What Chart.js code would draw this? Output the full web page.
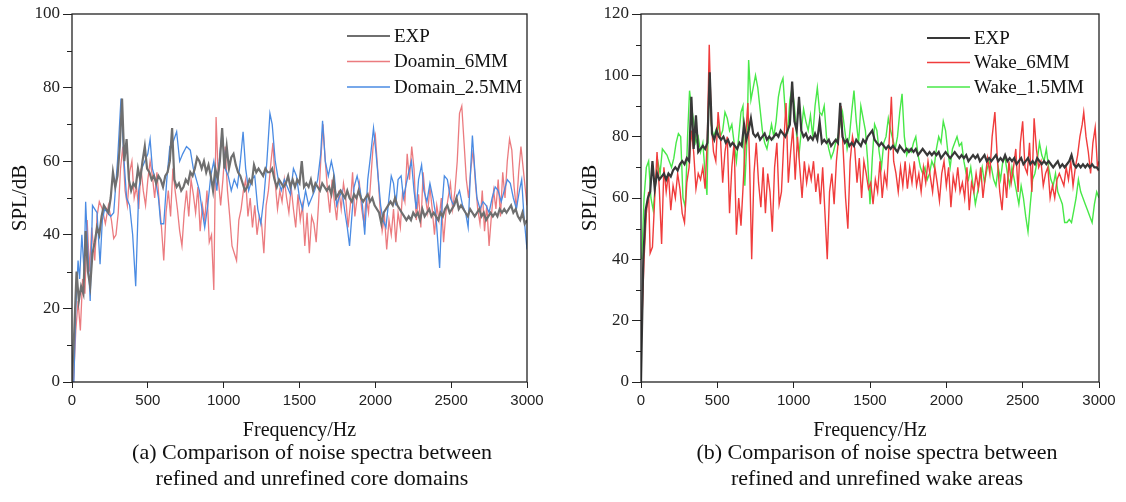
<!DOCTYPE html>
<html>
<head>
<meta charset="utf-8">
<script src="https://cdn.jsdelivr.net/npm/chart.js@4.4.1/dist/chart.umd.min.js"></script>
<style>
  html, body { margin: 0; padding: 0; background: #fff; }
  body { width: 1126px; height: 502px; position: relative; overflow: hidden; }
  .wrap { position: absolute; top: 0; height: 445px; }
  .cap { position: absolute; font-family: 'Liberation Serif', 'Times New Roman', serif; font-size: 22px; color: #111; text-align: center; line-height: 26px; white-space: nowrap; }
</style>
</head>
<body>
<div class="wrap" style="left:0; width:560px;"><canvas id="cA"></canvas></div>
<div class="wrap" style="left:570px; width:556px;"><canvas id="cB"></canvas></div>
<div class="cap" style="left:112px; width:400px; top:439px;">(a) Comparison of noise spectra between<br>refined and unrefined core domains</div>
<div class="cap" style="left:677px; width:400px; top:439px;">(b) Comparison of noise spectra between<br>refined and unrefined wake areas</div>
<script>
// ---------- DATA ----------
const xTicks = [0, 500, 1000, 1500, 2000, 2500, 3000];
const yTicksA = [0, 20, 40, 60, 80, 100];
const yTicksB = [0, 20, 40, 60, 80, 100, 120];
const expStepHz = 15; // measured spectrum: one value every 15 Hz from 0 to 3000 Hz

const labelsA = ['EXP', 'Doamin_6MM', 'Domain_2.5MM'];
const labelsB = ['EXP', 'Wake_6MM', 'Wake_1.5MM'];

// (a) EXP, every 15 Hz
const expA = [0,14,30,22,26,24,41,30,26,35,38,42,40,45,48,47,46,50,57,53,
  56,64,77,60,66,55,52,54,53,58,55,60,64,58,57,55,56,54,56,55,
  53,56,57,60,69,55,53,54,52,53,55,54,57,56,58,61,60,58,60,57,
  59,56,52,58,55,60,69,58,64,58,61,62,59,57,56,54,52,53,55,54,
  59,57,58,57,56,58,57,57,58,55,53,55,54,53,54,56,53,55,53,55,
  54,60,53,54,53,55,52,54,53,52,54,53,52,53,51,55,50,51,52,51,
  50,52,50,49,51,50,52,50,49,50,51,49,50,48,47,46,43,46,47,48,
  49,48,50,48,47,46,45,44,45,44,46,45,46,44,47,45,46,47,45,46,
  45,44,46,45,47,48,46,47,48,50,47,48,47,46,45,47,46,45,46,47,
  45,46,44,45,46,45,46,45,47,46,47,46,47,48,46,47,45,44,46,43,44];

// (a) Doamin_6MM, [Hz, dB]
const dom6A = [[10,0],[25,14],[40,22],[55,14],[70,28],[85,24],[100,44],[115,30],[130,42],[150,33],[165,45],[180,49],[200,47],[220,43],[240,48],[260,44],[275,39],[290,40],[305,46],[320,58],[335,64],[350,52],[365,48],[380,57],[395,60],[410,50],[425,53],[440,47],[455,58],[470,52],[485,48],[500,55],[515,60],[530,56],[545,50],[560,57],[575,49],[590,42],[605,33],[620,46],[635,52],[650,45],[665,58],[680,52],[695,47],[710,41],[725,37],[740,46],[755,52],[770,45],[785,55],[800,51],[815,46],[830,53],[845,41],[860,48],[875,44],[890,52],[905,38],[920,40],[935,25],[950,72],[965,55],[980,48],[995,55],[1010,64],[1025,52],[1040,45],[1055,37],[1070,35],[1085,33],[1100,44],[1115,47],[1130,52],[1145,55],[1160,45],[1175,50],[1190,42],[1205,48],[1220,40],[1235,45],[1250,43],[1265,35],[1280,48],[1295,52],[1310,59],[1325,65],[1340,54],[1355,47],[1370,52],[1385,49],[1400,55],[1415,50],[1430,46],[1445,53],[1460,47],[1475,42],[1490,51],[1505,44],[1520,48],[1535,37],[1550,46],[1565,35],[1580,45],[1595,43],[1610,38],[1625,48],[1640,60],[1655,70],[1670,60],[1685,52],[1700,46],[1715,55],[1730,49],[1745,44],[1760,52],[1775,47],[1790,54],[1805,50],[1820,42],[1835,48],[1850,57],[1865,45],[1880,50],[1895,54],[1910,47],[1925,43],[1940,50],[1955,46],[1970,55],[1985,64],[2000,67],[2015,58],[2030,48],[2045,41],[2060,45],[2075,36],[2090,44],[2105,40],[2120,47],[2135,38],[2150,46],[2165,42],[2180,52],[2195,49],[2210,62],[2225,55],[2240,64],[2255,58],[2270,44],[2285,51],[2300,42],[2315,57],[2330,50],[2345,46],[2360,53],[2375,47],[2390,40],[2405,48],[2420,44],[2435,50],[2450,38],[2465,46],[2480,50],[2495,54],[2510,47],[2525,52],[2540,60],[2555,73],[2570,75],[2585,65],[2600,55],[2615,50],[2630,58],[2645,63],[2660,54],[2675,47],[2690,43],[2705,52],[2720,41],[2735,48],[2750,37],[2765,45],[2780,52],[2795,47],[2810,55],[2825,45],[2840,57],[2855,50],[2870,60],[2885,66],[2900,63],[2915,53],[2930,47],[2945,57],[2960,64],[2975,58],[2990,52],[3000,48]];

// (a) Domain_2.5MM, [Hz, dB]
const dom25A = [[12,0],[25,20],[40,33],[50,28],[65,40],[80,30],[90,49],[105,35],[120,22],[135,48],[150,47],[165,46],[185,32],[200,44],[215,47],[235,46],[255,45],[275,46],[300,60],[323,77],[340,62],[360,50],[380,48],[400,40],[420,26],[440,52],[460,58],[480,60],[500,62],[515,66],[530,58],[550,55],[570,50],[585,43],[605,43],[625,55],[645,64],[665,65],[690,68],[710,60],[730,62],[755,64],[780,63],[800,58],[820,55],[840,52],[860,46],[875,42],[895,48],[915,56],[935,60],[955,52],[975,62],[990,68],[1010,58],[1030,56],[1050,52],[1070,55],[1090,53],[1110,60],[1128,68],[1145,58],[1165,52],[1185,55],[1205,56],[1225,47],[1245,43],[1265,50],[1285,60],[1305,73],[1320,70],[1340,60],[1360,55],[1380,52],[1400,55],[1420,53],[1440,51],[1460,58],[1480,56],[1500,50],[1520,47],[1540,52],[1560,48],[1580,50],[1600,52],[1620,55],[1640,62],[1652,71],[1670,60],[1690,56],[1710,60],[1730,56],[1745,48],[1760,50],[1780,52],[1800,46],[1815,42],[1830,37],[1845,45],[1860,53],[1880,56],[1900,52],[1915,48],[1930,40],[1950,55],[1970,62],[1988,69],[2005,62],[2020,55],[2035,48],[2050,44],[2070,42],[2090,50],[2105,56],[2120,54],[2135,48],[2150,55],[2170,56],[2185,50],[2200,53],[2220,57],[2238,60],[2255,52],[2270,47],[2285,55],[2305,59],[2320,52],[2340,49],[2360,54],[2380,50],[2400,45],[2424,31],[2440,48],[2455,56],[2475,55],[2495,50],[2515,48],[2535,50],[2555,52],[2575,48],[2595,46],[2612,42],[2625,55],[2640,67],[2655,58],[2670,50],[2690,47],[2710,49],[2730,48],[2750,46],[2770,50],[2790,53],[2810,52],[2830,49],[2850,52],[2870,55],[2890,54],[2910,50],[2930,47],[2950,52],[2965,55],[2980,45],[3000,36]];

// (b) EXP, every 15 Hz
const expB = [0,40,56,60,62,72,63,68,66,67,68,66,68,67,69,70,69,71,72,71,
  73,72,93,76,87,75,76,77,76,78,101,81,79,82,80,79,80,78,79,77,
  78,77,76,78,77,84,79,82,86,81,80,81,79,80,81,79,80,79,80,81,
  80,82,81,80,82,84,98,85,82,93,82,80,81,79,80,79,81,79,85,78,
  79,78,79,77,78,79,78,91,80,78,79,77,78,77,79,78,77,79,78,80,
  81,82,79,78,77,78,77,76,77,76,77,76,75,77,76,75,76,75,76,75,
  76,74,75,76,75,74,75,74,75,74,75,73,74,75,74,73,74,75,74,73,
  74,73,74,72,73,74,73,74,72,73,74,72,73,72,73,74,72,73,72,74,
  72,73,72,73,71,72,73,71,72,73,71,72,71,73,72,71,72,71,72,71,
  70,71,72,70,71,70,71,72,74,71,70,71,70,71,70,71,70,71,70,70,69];

// (b) Wake_6MM, [Hz, dB]
const wake6B = [[5,18],[20,40],[35,55],[50,62],[60,42],[75,44],[90,60],[105,75],[120,63],[135,45],[150,70],[165,62],[180,68],[195,56],[210,64],[225,60],[240,68],[255,63],[270,55],[285,52],[300,65],[315,70],[330,82],[345,75],[360,63],[375,68],[390,66],[405,70],[420,63],[435,80],[447,110],[460,85],[475,75],[490,72],[505,88],[520,80],[535,65],[550,75],[565,80],[580,55],[595,70],[610,78],[625,48],[640,60],[655,51],[670,65],[685,80],[700,91],[712,70],[725,40],[740,68],[755,78],[770,65],[785,57],[800,70],[815,55],[830,68],[845,62],[860,49],[875,70],[890,78],[905,58],[920,62],[935,78],[950,91],[965,65],[980,75],[995,83],[1010,66],[1025,80],[1040,70],[1055,60],[1070,72],[1085,65],[1100,70],[1115,66],[1130,72],[1145,62],[1160,68],[1175,58],[1190,70],[1205,55],[1220,40],[1235,62],[1250,68],[1265,58],[1280,72],[1295,80],[1310,90],[1325,75],[1340,60],[1355,50],[1370,72],[1385,80],[1400,76],[1415,65],[1430,73],[1445,60],[1460,72],[1475,68],[1490,63],[1505,65],[1520,58],[1535,66],[1550,62],[1565,72],[1580,60],[1595,68],[1610,64],[1625,78],[1640,93],[1655,72],[1670,68],[1685,62],[1700,70],[1715,64],[1730,72],[1745,63],[1760,70],[1775,65],[1790,72],[1805,64],[1820,68],[1835,62],[1850,70],[1865,65],[1880,72],[1895,67],[1910,62],[1925,70],[1940,65],[1955,59],[1970,68],[1985,72],[2000,64],[2015,70],[2030,57],[2045,67],[2060,63],[2075,70],[2090,62],[2105,65],[2120,60],[2135,70],[2150,56],[2165,65],[2180,62],[2195,68],[2210,63],[2225,70],[2240,60],[2255,67],[2270,73],[2285,68],[2300,80],[2318,88],[2335,72],[2350,62],[2365,56],[2380,68],[2395,60],[2410,72],[2425,65],[2440,70],[2455,76],[2470,62],[2485,78],[2500,85],[2515,70],[2530,68],[2545,78],[2560,62],[2575,86],[2590,76],[2605,70],[2620,72],[2635,64],[2650,68],[2665,70],[2680,60],[2695,64],[2710,60],[2725,66],[2740,68],[2755,66],[2770,64],[2785,70],[2800,66],[2815,72],[2830,64],[2845,70],[2860,74],[2875,80],[2890,84],[2900,88],[2915,80],[2930,75],[2945,68],[2960,78],[2975,83],[2990,70],[3000,72]];

// (b) Wake_1.5MM, [Hz, dB]
const wake15B = [[5,40],[20,60],[35,70],[50,72],[65,60],[80,56],[95,65],[110,72],[125,68],[140,76],[155,75],[170,74],[185,72],[200,70],[215,73],[230,78],[245,81],[260,80],[275,60],[290,57],[305,80],[318,95],[330,90],[345,85],[360,78],[375,80],[390,75],[405,78],[420,68],[432,61],[447,101],[460,84],[475,80],[490,82],[505,84],[520,80],[535,82],[550,88],[565,86],[580,82],[595,84],[610,78],[625,72],[640,80],[655,88],[668,90],[680,64],[695,80],[705,105],[720,92],[735,96],[750,100],[765,96],[780,89],[795,82],[810,78],[825,76],[840,80],[855,84],[870,80],[885,85],[900,93],[915,97],[930,99],[945,88],[960,81],[975,92],[990,96],[1005,90],[1020,80],[1035,74],[1050,82],[1065,89],[1080,85],[1095,82],[1110,87],[1125,80],[1140,90],[1155,96],[1170,88],[1185,87],[1200,90],[1215,80],[1230,76],[1245,73],[1260,75],[1275,78],[1290,80],[1305,84],[1320,88],[1335,82],[1350,76],[1365,80],[1380,88],[1395,95],[1410,85],[1425,78],[1440,90],[1455,86],[1470,82],[1485,72],[1500,58],[1515,73],[1530,84],[1545,82],[1560,75],[1575,70],[1590,78],[1605,80],[1620,86],[1635,82],[1650,79],[1665,76],[1680,80],[1695,88],[1710,94],[1725,80],[1740,74],[1755,76],[1770,75],[1785,78],[1800,80],[1815,74],[1830,70],[1845,68],[1860,70],[1875,66],[1890,68],[1905,72],[1920,70],[1935,76],[1950,80],[1965,78],[1980,85],[1995,82],[2010,75],[2025,70],[2040,76],[2055,78],[2070,80],[2085,77],[2100,78],[2115,72],[2130,68],[2145,66],[2160,70],[2175,64],[2190,58],[2205,62],[2220,66],[2235,70],[2250,65],[2265,69],[2280,72],[2295,70],[2310,66],[2325,64],[2340,70],[2355,66],[2370,72],[2385,73],[2400,68],[2415,64],[2430,70],[2445,66],[2460,62],[2475,58],[2490,64],[2505,60],[2520,54],[2535,49],[2550,58],[2565,66],[2580,68],[2595,72],[2610,78],[2625,74],[2640,72],[2655,76],[2670,70],[2685,66],[2700,64],[2715,68],[2730,62],[2745,60],[2760,58],[2775,52],[2790,52],[2805,53],[2820,52],[2835,56],[2850,60],[2865,66],[2880,62],[2895,60],[2910,58],[2925,56],[2940,54],[2955,52],[2970,58],[2985,62],[3000,60]];

// ---------- BUILD ----------
const SERIF = "'Liberation Serif', 'Times New Roman', serif";
const SANS = "'Liberation Sans', Arial, sans-serif";

function gridSeries(vals, step) { return vals.map((v, i) => ({ x: i * step, y: v })); }
function pairSeries(arr) { return arr.map(p => ({ x: p[0], y: p[1] })); }

const framePlugin = {
  id: 'frame',
  afterDraw(chart, args, opts) {
    const ctx = chart.ctx, a = chart.chartArea;
    const ys = chart.scales.y;
    ctx.save();
    ctx.strokeStyle = '#222';
    ctx.lineWidth = 1.3;
    ctx.strokeRect(a.left, a.top, a.right - a.left, a.bottom - a.top);
    ctx.lineWidth = 1;
    for (const v of opts.minorY) {
      const py = Math.round(ys.getPixelForValue(v)) + 0.5;
      ctx.beginPath(); ctx.moveTo(a.left - 5, py); ctx.lineTo(a.left, py); ctx.stroke();
    }
    const lx = a.right - opts.legendDx;
    ctx.font = '19px ' + SERIF;
    ctx.textBaseline = 'middle';
    ctx.textAlign = 'left';
    chart.data.datasets.forEach((ds, i) => {
      const y = a.top + opts.legendTop + i * opts.legendGap;
      ctx.strokeStyle = ds.borderColor;
      ctx.lineWidth = ds.borderWidth;
      ctx.beginPath(); ctx.moveTo(lx, y); ctx.lineTo(lx + 43, y); ctx.stroke();
      ctx.fillStyle = '#111';
      ctx.fillText(ds.label, lx + 47, y + 1);
    });
    ctx.restore();
  }
};

function makeChart(id, datasets, yMax, yTicks, minorY, yAxisWidth, padRight, legend) {
  return new Chart(document.getElementById(id), {
    type: 'line',
    data: { datasets },
    options: {
      responsive: true, maintainAspectRatio: false, animation: false,
      events: [],
      layout: { padding: { top: 14, right: padRight, left: 0, bottom: 0 } },
      elements: { point: { radius: 0 }, line: { tension: 0 } },
      plugins: { legend: { display: false }, tooltip: { enabled: false },
        frame: Object.assign({ minorY }, legend) },
      scales: {
        x: {
          type: 'linear', min: 0, max: 3000,
          afterBuildTicks: s => { s.ticks = xTicks.map(v => ({ value: v })); },
          afterFit: s => { s.height = 63; },
          grid: { drawOnChartArea: false, drawTicks: true, tickLength: 6, color: '#222', lineWidth: 1 },
          border: { display: false },
          ticks: { color: '#222', font: { family: SANS, size: 15 }, padding: 4, maxRotation: 0, autoSkip: false,
                   callback: v => String(v) },
          title: { display: true, text: 'Frequency/Hz', color: '#111', font: { family: SERIF, size: 20 }, padding: { top: 0, bottom: 2 } }
        },
        y: {
          type: 'linear', min: 0, max: yMax,
          afterBuildTicks: s => { s.ticks = yTicks.map(v => ({ value: v })); },
          afterFit: s => { s.width = yAxisWidth; },
          grid: { drawOnChartArea: false, drawTicks: true, tickLength: 9, color: '#222', lineWidth: 1 },
          border: { display: false },
          ticks: { color: '#222', font: { family: SERIF, size: 17 }, padding: 3, autoSkip: false,
                   callback: v => String(v) },
          title: { display: true, text: 'SPL/dB', color: '#111', font: { family: SERIF, size: 21 }, padding: { top: 8, bottom: 0 } }
        }
      }
    },
    plugins: [framePlugin]
  });
}

makeChart('cA', [
  { label: labelsA[0], data: gridSeries(expA, expStepHz), borderColor: '#6f6f6f', borderWidth: 2.2, order: 1 },
  { label: labelsA[1], data: pairSeries(dom6A), borderColor: 'rgba(232,100,105,0.85)', borderWidth: 1.3, order: 3 },
  { label: labelsA[2], data: pairSeries(dom25A), borderColor: '#4a8be3', borderWidth: 1.3, order: 2 }
], 100, yTicksA, [10, 30, 50, 70, 90], 72, 33, { legendDx: 180, legendTop: 22, legendGap: 25.5 });

makeChart('cB', [
  { label: labelsB[0], data: gridSeries(expB, expStepHz), borderColor: '#383838', borderWidth: 2.2, order: 1 },
  { label: labelsB[1], data: pairSeries(wake6B), borderColor: '#f03c3c', borderWidth: 1.4, order: 2 },
  { label: labelsB[2], data: pairSeries(wake15B), borderColor: '#48e848', borderWidth: 1.4, order: 3 }
], 120, yTicksB, [10, 30, 50, 70, 90, 110], 71, 27, { legendDx: 172, legendTop: 24, legendGap: 24.5 });
</script>
</body>
</html>
